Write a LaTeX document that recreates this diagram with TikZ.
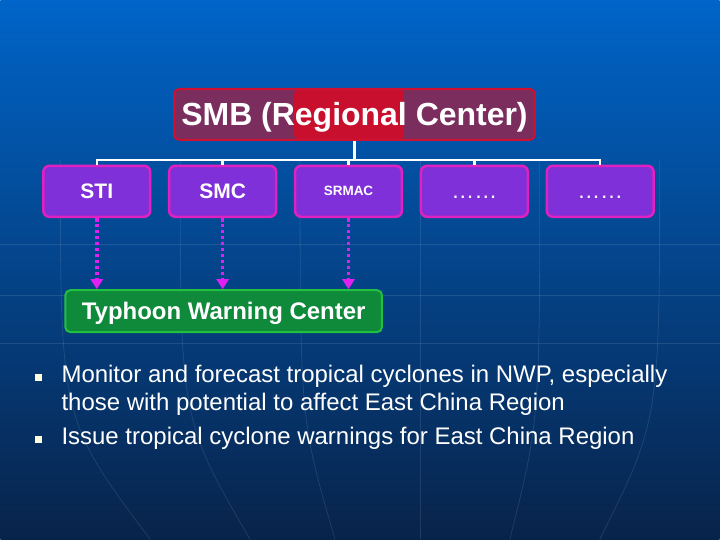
\documentclass[tikz,border=0pt]{standalone}
\usepackage{fontspec}
\setmainfont{Liberation Sans}
\usetikzlibrary{arrows.meta,calc,positioning}
\definecolor{bgtop}{HTML}{0064C8}
\definecolor{bgmid}{HTML}{0A4A98}
\definecolor{bgbot}{HTML}{08234A}
\definecolor{smbfill}{HTML}{7B2D5E}
\definecolor{smbred}{HTML}{C8102E}
\definecolor{smbedge}{HTML}{D01030}
\definecolor{unitfill}{HTML}{8030D8}
\definecolor{unitedge}{HTML}{E020C0}
\definecolor{feedpink}{HTML}{E020F0}
\definecolor{twcfill}{HTML}{0E8A3A}
\definecolor{twcedge}{HTML}{22C040}
\definecolor{bulletcol}{HTML}{FFFFE0}

\begin{document}
\begin{tikzpicture}[x=1pt,y=-1pt,
  unit/.style={draw=unitedge,line width=2.5pt,fill=unitfill,rounded corners=6pt,
    minimum width=107pt,minimum height=51pt,text=white,
    font=\bfseries\fontsize{21}{24}\selectfont},
  feed/.style={draw=feedpink,line width=3.5pt,dash pattern=on 3.5pt off 2.5pt,
    -{Triangle[length=10pt,width=12pt]}},
  tree/.style={draw=white,line width=2.5pt},
  bullet/.style={fill=bulletcol,minimum size=7pt,inner sep=0pt},
  item/.style={anchor=base west,text=white,inner sep=0pt,
    font=\fontsize{24}{28}\selectfont},
  bgline/.style={draw=white,opacity=0.1,line width=0.8pt}]
% backdrop
\shade[top color=bgtop,middle color=bgmid,bottom color=bgbot] (0,0) rectangle (720,540);
\foreach \y in {245,296,344}{\draw[bgline] (0,\y) -- (720,\y);}
\foreach \x/\b in {60/150,180/250,300/335,420/420,540/510,660/600}{\draw[bgline] (\x,160) .. controls (\x,420) .. (\b,540);}

% head office
\node[draw=smbedge,line width=2pt,fill=smbfill,rounded corners=5pt,
  minimum width=361pt,minimum height=51pt,text=white,text depth=0pt,
  font=\bfseries\fontsize{32}{36}\selectfont,
  path picture={\fill[smbred] ([xshift=-60.5pt]path picture bounding box.north)
    rectangle ([xshift=49.5pt]path picture bounding box.south);}]
  (smb) at (354.5,114.5) {SMB (Regional Center)};

% units
\node[unit] (sti) at (96.5,191.5) {STI};
\node[unit,right=16.5pt of sti] (smc) {SMC};
\node[unit,right=16.5pt of smc,font=\bfseries\fontsize{13.5}{16}\selectfont] (srmac) {SRMAC};
\node[unit,right=16.5pt of srmac,font=\fontsize{23}{26}\selectfont] (more1) {\rule{0pt}{14pt}……};
\node[unit,right=16.5pt of more1,font=\fontsize{23}{26}\selectfont] (more2) {\rule{0pt}{14pt}……};

% tree
\draw[tree] (smb.south) -- ++(0,19) coordinate (fork);
\draw[tree] (sti.north) |- (fork) -| (more2.north);
\foreach \n in {smc,srmac,more1}{\draw[tree] (\n.north) -- (\n.north |- fork);}

% warning centre
\node[draw=twcedge,line width=2pt,fill=twcfill,rounded corners=5pt,
  minimum width=317pt,minimum height=42pt,text=white,text depth=0pt,
  font=\bfseries\fontsize{24}{27}\selectfont]
  (twc) at (223.5,311.5) {Typhoon Warning Center};
\foreach \n in {sti,smc,srmac}{\draw[feed] (\n.south) -- (\n.south |- twc.north);}

% bullets
\node[bullet] (b1) at (38.5,377.5) {};
\node[item] (l1) at (61,383) {Monitor and forecast tropical cyclones in NWP, especially};
\node[item] (l2) at (61,411) {those with potential to affect East China Region};
\node[bullet] (b2) at (38.5,439.5) {};
\node[item] (l3) at (61,445) {Issue tropical cyclone warnings for East China Region};
\end{tikzpicture}
\end{document}
